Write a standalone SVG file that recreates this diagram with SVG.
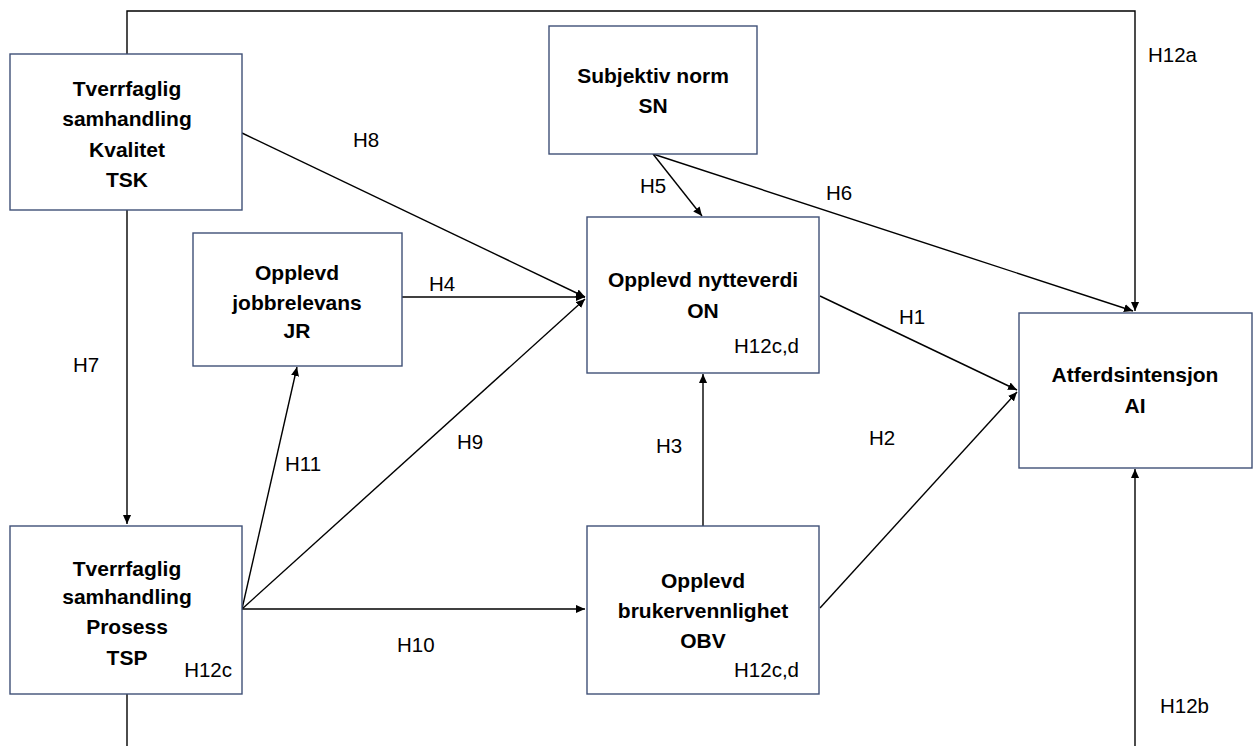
<svg xmlns="http://www.w3.org/2000/svg" width="1253" height="746" viewBox="0 0 1253 746">
<style>
.box{fill:#fff;stroke:#3f5077;stroke-width:1.4}
.t{font-family:"Liberation Sans",Arial,sans-serif;font-size:21px;font-weight:bold;fill:#000;text-anchor:middle}
.h{font-family:"Liberation Sans",Arial,sans-serif;font-size:20.5px;fill:#000}
.c{fill:none;stroke:#000;stroke-width:1.4}
</style>
<defs>
<marker id="a" viewBox="0 0 10 10" refX="10" refY="5" markerWidth="9" markerHeight="9" markerUnits="userSpaceOnUse" orient="auto">
<path d="M0,0.5 L10,5 L0,9.5 Z" fill="#000"/>
</marker>
</defs>
<rect width="1253" height="746" fill="#fff"/>
<g id="connectors">
<path class="c" d="M127,54 V11 H1135 V311" marker-end="url(#a)"/>
<path class="c" d="M127,210 V524" marker-end="url(#a)"/>
<path class="c" d="M127,694 V746"/>
<path class="c" d="M1135,746 V469" marker-end="url(#a)"/>
<path class="c" d="M242,133 L585,297" marker-end="url(#a)"/>
<path class="c" d="M402,297 H585" marker-end="url(#a)"/>
<path class="c" d="M242,609 L585,299" marker-end="url(#a)"/>
<path class="c" d="M242,609 L297,367" marker-end="url(#a)"/>
<path class="c" d="M242,609 H585" marker-end="url(#a)"/>
<path class="c" d="M653,154 L702,216" marker-end="url(#a)"/>
<path class="c" d="M653,154 L1133,311" marker-end="url(#a)"/>
<path class="c" d="M820,296 L1017,390" marker-end="url(#a)"/>
<path class="c" d="M703,526 V374" marker-end="url(#a)"/>
<path class="c" d="M820,608 L1017,392" marker-end="url(#a)"/>
</g>
<g id="labels">
<text class="h" x="1148" y="62">H12a</text>
<text class="h" x="353" y="147">H8</text>
<text class="h" x="640" y="193">H5</text>
<text class="h" x="826" y="200">H6</text>
<text class="h" x="429" y="291">H4</text>
<text class="h" x="899" y="324">H1</text>
<text class="h" x="73" y="372">H7</text>
<text class="h" x="285" y="471">H11</text>
<text class="h" x="457" y="449">H9</text>
<text class="h" x="656" y="453">H3</text>
<text class="h" x="869" y="445">H2</text>
<text class="h" x="397" y="652">H10</text>
<text class="h" x="1160" y="713">H12b</text>
</g>
<g id="TSK">
<rect class="box" x="10" y="54" width="232" height="156"/>
<text class="t" x="127" y="96">Tverrfaglig</text>
<text class="t" x="127" y="126">samhandling</text>
<text class="t" x="127" y="157">Kvalitet</text>
<text class="t" x="127" y="187">TSK</text>
</g>
<g id="SN">
<rect class="box" x="549" y="26" width="208" height="128"/>
<text class="t" x="653" y="83">Subjektiv norm</text>
<text class="t" x="653" y="113">SN</text>
</g>
<g id="JR">
<rect class="box" x="193" y="233" width="209" height="133"/>
<text class="t" x="297" y="280">Opplevd</text>
<text class="t" x="297" y="310">jobbrelevans</text>
<text class="t" x="297" y="338">JR</text>
</g>
<g id="ON">
<rect class="box" x="587" y="217" width="232" height="156"/>
<text class="t" x="703" y="287">Opplevd nytteverdi</text>
<text class="t" x="703" y="318">ON</text>
<text class="h" x="799" y="353" text-anchor="end">H12c,d</text>
</g>
<g id="AI">
<rect class="box" x="1019" y="313" width="233" height="155"/>
<text class="t" x="1135" y="382">Atferdsintensjon</text>
<text class="t" x="1135" y="413">AI</text>
</g>
<g id="TSP">
<rect class="box" x="10" y="526" width="232" height="168"/>
<text class="t" x="127" y="576">Tverrfaglig</text>
<text class="t" x="127" y="604">samhandling</text>
<text class="t" x="127" y="634">Prosess</text>
<text class="t" x="127" y="665">TSP</text>
<text class="h" x="232" y="677" text-anchor="end">H12c</text>
</g>
<g id="OBV">
<rect class="box" x="587" y="526" width="232" height="168"/>
<text class="t" x="703" y="588">Opplevd</text>
<text class="t" x="703" y="618">brukervennlighet</text>
<text class="t" x="703" y="648">OBV</text>
<text class="h" x="799" y="677" text-anchor="end">H12c,d</text>
</g>
</svg>
